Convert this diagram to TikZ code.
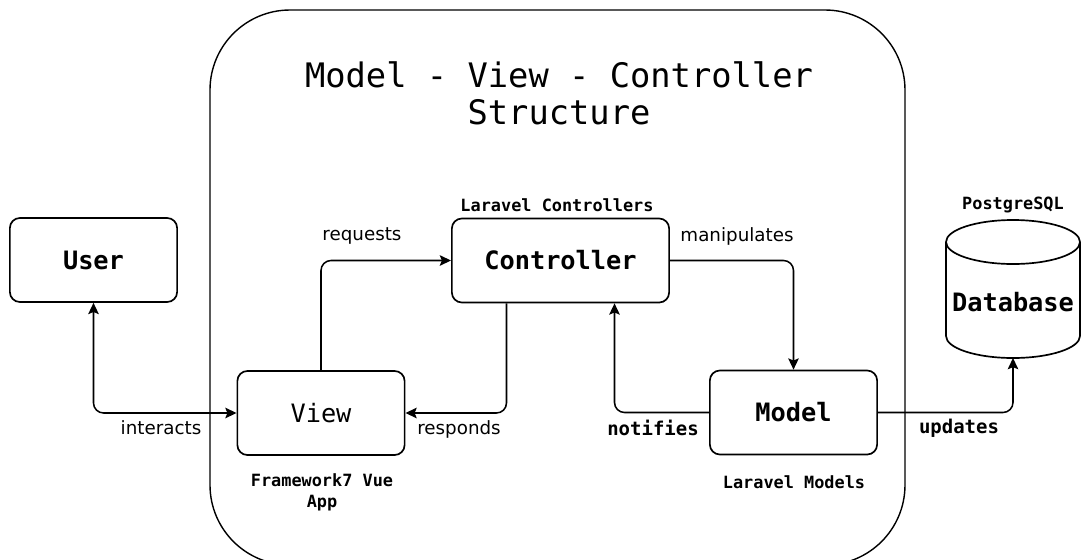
\documentclass[tikz,border=0pt]{standalone}
\usepackage{fontspec}
\setsansfont{DejaVu Sans}
\setmonofont{DejaVu Sans Mono}
\usepackage{tikz}
\usetikzlibrary{positioning,arrows.meta,calc}
\newcommand{\boxfont}{\ttfamily\fontsize{18}{20}\selectfont}

\begin{document}
\begin{tikzpicture}[x=0.025cm, y=-0.025cm, line join=round,
    >={Stealth[length=8pt,width=7.5pt,inset=1.5pt]},
    box/.style={draw, line width=1.2pt, rounded corners=0.25cm, minimum width=4.18cm, minimum height=2.1cm, font=\boxfont\bfseries},
    flow/.style={line width=1.1pt, rounded corners=0.25cm, ->},
    verb/.style={font=\sffamily\fontsize{13}{15}\selectfont},
    tag/.style={font=\ttfamily\bfseries\fontsize{13.5}{15}\selectfont},
    note/.style={font=\ttfamily\bfseries\fontsize{12}{15}\selectfont, align=center}]
    \useasboundingbox (0,0) rectangle (1081,560);
    \clip (0,0) rectangle (1081,560);

    % outer frame, its lower edge runs off the page
    \draw[line width=1pt, rounded corners=2cm] (210,10) rectangle (905,565);
    \node[font=\ttfamily\fontsize{24}{26.3}\selectfont, align=center] (title) at (559,93.5) {Model - View - Controller\\Structure};

    \node[box] (user) at (93.5,260) {User};
    \node[box, font=\boxfont] (view) at (321,413) {View};
    \node[box, minimum width=5.43cm] (ctrl) at (560.5,260.5) {Controller};
    \node[box] (model) at (793.5,412.5) {Model};

    \node[note] (ctrlnote) at (557,205) {Laravel Controllers};
    \node[note] (viewnote) at (322,492.5) {Framework7 Vue\\App};
    \node[note] (modelnote) at (794,482) {Laravel Models};
    \node[note] (dbnote) at (1013,205) {PostgreSQL};

    % cylinder: body, then the whole top ellipse
    \draw[line width=1.2pt] (946,242) -- (946,336) arc[start angle=180, end angle=0, x radius=67, y radius=22] -- (1080,242);
    \draw[line width=1.2pt] (1013,242) ellipse [x radius=67, y radius=22];
    \node[font=\boxfont\bfseries] (db) at (1013,302) {Database};
    \coordinate (dbbot) at (1013,358);

    \draw[flow, <->] (user.south) |- (view.west);
    \draw[flow] (view.north) |- (ctrl.west);
    \draw[flow] ([xshift=-1.35cm]ctrl.south) |- (view.east);
    \draw[flow] (ctrl.east) -| (model.north);
    \draw[flow] (model.west) -| ([xshift=1.35cm]ctrl.south);
    \draw[flow] (model.east) -| (dbbot);

    \node[verb] (interacts) at (161,428) {interacts};
    \node[verb] (requests) at (362,236) {requests};
    \node[verb] (manipulates) at (737,236) {manipulates};
    \node[verb] (responds) at (459,429) {responds};
    \node[tag] (notifies) at (653,428) {notifies};
    \node[tag] (updates) at (959,428) {updates};
  \end{tikzpicture}
\end{document}
